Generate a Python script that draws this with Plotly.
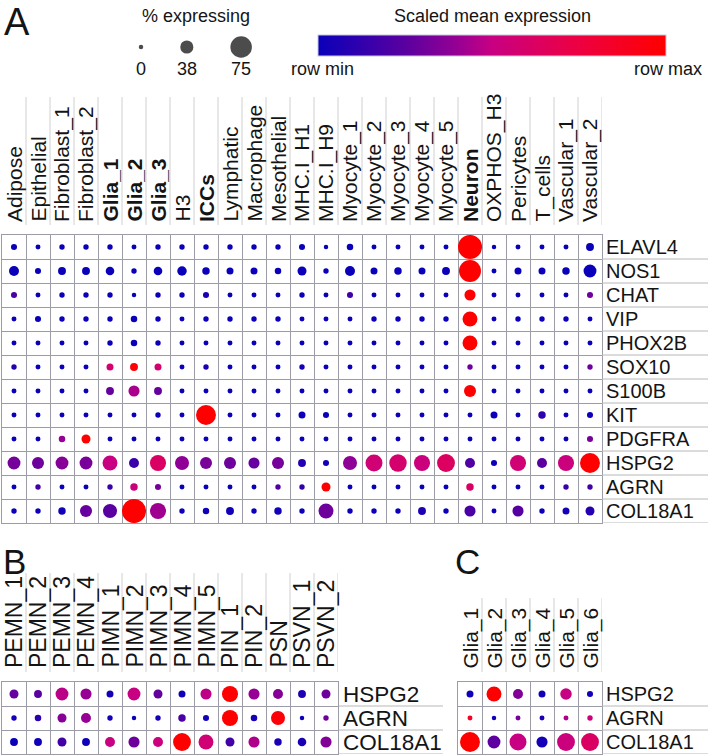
import plotly.graph_objects as go

W, H = 709, 756
FONT = "Liberation Sans, Arial, sans-serif"

# ---------------- data ----------------
a_cols = ["Adipose", "Epithelial", "Fibroblast_1", "Fibroblast_2", "Glia_1", "Glia_2", "Glia_3",
          "H3", "ICCs", "Lymphatic", "Macrophage", "Mesothelial", "MHC.I_H1", "MHC.I_H9",
          "Myocyte_1", "Myocyte_2", "Myocyte_3", "Myocyte_4", "Myocyte_5", "Neuron",
          "OXPHOS_H3", "Pericytes", "T_cells", "Vascular_1", "Vascular_2"]
a_bold = ["Glia_1", "Glia_2", "Glia_3", "ICCs", "Neuron"]
a_genes = ["ELAVL4", "NOS1", "CHAT", "VIP", "PHOX2B", "SOX10", "S100B", "KIT", "PDGFRA",
           "HSPG2", "AGRN", "COL18A1"]

# % expressing (panel A)
a_pct = [
    [7, 2, 4, 4, 4, 2, 4, 4, 4, 4, 4, 4, 7, 0, 9, 2, 2, 2, 2, 86, 0, 2, 2, 2, 15],
    [24, 7, 15, 15, 18, 4, 18, 22, 13, 11, 11, 9, 20, 4, 24, 11, 13, 11, 15, 77, 2, 11, 11, 13, 37],
    [7, 2, 4, 4, 4, 0, 4, 4, 7, 2, 2, 2, 4, 2, 7, 2, 2, 2, 2, 29, 2, 2, 2, 2, 7],
    [2, 7, 4, 4, 4, 9, 4, 2, 4, 4, 4, 4, 2, 2, 2, 4, 4, 4, 4, 46, 2, 4, 4, 4, 2],
    [2, 2, 2, 2, 4, 9, 4, 2, 2, 2, 2, 2, 2, 2, 2, 2, 2, 2, 2, 46, 2, 2, 2, 2, 2],
    [4, 2, 2, 2, 11, 15, 11, 2, 4, 2, 2, 2, 4, 2, 2, 2, 2, 2, 2, 4, 2, 2, 2, 2, 4],
    [2, 2, 2, 2, 15, 29, 15, 2, 2, 2, 2, 2, 2, 2, 2, 2, 2, 2, 2, 33, 2, 2, 2, 2, 2],
    [2, 2, 2, 2, 2, 2, 4, 2, 68, 2, 2, 2, 11, 7, 2, 2, 2, 2, 2, 2, 11, 2, 13, 2, 7],
    [2, 2, 9, 20, 2, 2, 2, 2, 2, 2, 2, 2, 2, 2, 2, 2, 2, 2, 2, 2, 2, 2, 2, 2, 7],
    [37, 33, 37, 37, 46, 24, 51, 42, 33, 33, 29, 33, 15, 7, 42, 55, 57, 51, 59, 24, 7, 51, 24, 51, 68],
    [2, 4, 2, 2, 4, 13, 7, 2, 2, 2, 2, 4, 4, 20, 2, 2, 2, 2, 2, 13, 2, 2, 2, 4, 4],
    [4, 4, 13, 33, 42, 86, 51, 4, 9, 15, 4, 13, 4, 46, 4, 4, 4, 15, 4, 29, 2, 29, 4, 11, 20],
]
# scaled mean expression (row min = 0, row max = 1) (panel A)
a_expr = [
    [0, 0, 0, 0, 0, 0, 0, 0, 0, 0, 0, 0, 0, 0, 0, 0, 0, 0, 0, 1, 0, 0, 0, 0, 0],
    [0, 0, 0, 0, 0, 0, 0, 0, 0, 0, 0, 0, 0, 0, 0, 0, 0, 0, 0, 1, 0, 0, 0, 0, 0],
    [0.2, 0, 0, 0, 0, 0, 0, 0, 0.05, 0, 0, 0, 0, 0, 0.17, 0, 0, 0, 0, 1, 0, 0, 0, 0, 0.3],
    [0, 0, 0, 0, 0, 0, 0, 0, 0, 0, 0, 0, 0, 0, 0, 0, 0, 0, 0, 1, 0, 0, 0, 0, 0],
    [0, 0, 0, 0, 0, 0, 0, 0, 0, 0, 0, 0, 0, 0, 0, 0, 0, 0, 0, 1, 0, 0, 0, 0, 0],
    [0.08, 0, 0, 0, 0.57, 0.97, 0.57, 0, 0.05, 0, 0, 0, 0.03, 0, 0, 0, 0, 0, 0, 0.3, 0, 0, 0, 0, 0.3],
    [0, 0, 0, 0, 0.28, 0.44, 0.28, 0, 0, 0, 0, 0, 0, 0, 0, 0, 0, 0, 0, 1, 0, 0, 0, 0, 0],
    [0, 0, 0, 0, 0, 0, 0, 0, 1, 0, 0, 0, 0, 0, 0, 0, 0, 0, 0, 0, 0, 0, 0.12, 0, 0],
    [0, 0, 0.4, 1, 0, 0, 0, 0, 0, 0, 0, 0, 0, 0, 0, 0, 0, 0, 0, 0, 0, 0, 0, 0, 0.32],
    [0.32, 0.3, 0.36, 0.33, 0.5, 0.15, 0.62, 0.38, 0.33, 0.3, 0.28, 0.32, 0.08, 0.02, 0.38,
     0.55, 0.58, 0.52, 0.63, 0.22, 0, 0.55, 0.25, 0.52, 1],
    [0, 0.18, 0, 0, 0.15, 0.52, 0.32, 0, 0, 0, 0, 0.22, 0.12, 1, 0, 0, 0, 0, 0, 0.62, 0, 0, 0, 0.15, 0.18],
    [0, 0, 0.02, 0.28, 0.25, 1, 0.42, 0, 0.02, 0.02, 0, 0.02, 0, 0.3, 0, 0, 0, 0.06, 0, 0.2, 0,
     0.24, 0, 0.03, 0.08],
]

b_cols = ["PEMN_1", "PEMN_2", "PEMN_3", "PEMN_4", "PIMN_1", "PIMN_2", "PIMN_3", "PIMN_4",
          "PIMN_5", "PIN_1", "PIN_2", "PSN", "PSVN_1", "PSVN_2"]
b_genes = ["HSPG2", "AGRN", "COL18A1"]
b_pct = [
    [20, 15, 37, 29, 11, 37, 20, 11, 29, 51, 29, 24, 15, 20],
    [4, 9, 20, 24, 4, 0, 4, 13, 7, 51, 9, 42, 0, 4],
    [15, 15, 20, 15, 24, 29, 24, 59, 46, 20, 29, 13, 18, 29],
]
b_expr = [
    [0.28, 0.25, 0.47, 0.4, 0.03, 0.5, 0.27, 0.02, 0.48, 1, 0.4, 0.36, 0.07, 0.3],
    [0.03, 0.1, 0.36, 0.4, 0.03, 0, 0.03, 0.2, 0.03, 1, 0.03, 0.97, 0, 0.3],
    [0, 0.02, 0.18, 0.02, 0.5, 0.3, 0.52, 1, 0.55, 0.18, 0.45, 0.05, 0.05, 0.35],
]

c_cols = ["Glia_1", "Glia_2", "Glia_3", "Glia_4", "Glia_5", "Glia_6"]
c_genes = ["HSPG2", "AGRN", "COL18A1"]
c_pct = [
    [11, 46, 24, 11, 31, 7],
    [2, 0, 2, 2, 2, 4],
    [68, 37, 55, 29, 59, 59],
]
c_expr = [
    [0.02, 1, 0.35, 0.02, 0.5, 0.02],
    [0.85, 0.02, 0.33, 0.05, 0.45, 0.52],
    [1, 0.26, 0.5, 0.03, 0.52, 0.62],
]

legend_pct = [0, 38, 75]

# ---------------- styling helpers ----------------
COLORSCALE = [[0, "rgb(10,0,185)"], [0.25, "rgb(90,0,160)"], [0.4, "rgb(150,0,148)"],
              [0.5, "rgb(200,0,130)"], [0.75, "rgb(238,0,65)"], [1, "rgb(255,0,0)"]]
GRID = "#9c9ca6"
HEADLINE = "#d0d0d0"
TXT = "#141414"


def dsize(p):
    return 4.5 + 0.227 * p


def fx(px):
    return px / W


def fy(py):
    return 1 - py / H


fig = go.Figure()

panels = [
    # cols, genes, pct, expr, axis suffix, x0, x1, y0, y1
    (a_cols, a_genes, a_pct, a_expr, "", 2, 602, 235, 523),
    (b_cols, b_genes, b_pct, b_expr, "2", 2, 338, 682, 754),
    (c_cols, c_genes, c_pct, c_expr, "3", 458, 602, 682, 754),
]

layout_axes = {}
for cols, genes, pct, expr, sfx, x0, x1, y0, y1 in panels:
    xs, ys, ss, cs = [], [], [], []
    for gi, g in enumerate(genes):
        for ci, c in enumerate(cols):
            xs.append(c)
            ys.append(g)
            ss.append(dsize(pct[gi][ci]))
            cs.append(expr[gi][ci])
    fig.add_trace(go.Scatter(
        x=xs, y=ys, mode="markers", xaxis="x" + sfx, yaxis="y" + sfx,
        marker=dict(size=ss, color=cs, coloraxis="coloraxis", line=dict(width=0), opacity=1),
        hoverinfo="skip", showlegend=False))
    common = dict(showgrid=True, gridcolor=GRID, gridwidth=1, tickson="boundaries",
                  showticklabels=False, ticks="", showline=True, mirror=True,
                  linecolor=GRID, linewidth=1, zeroline=False, fixedrange=True)
    layout_axes["xaxis" + sfx] = dict(
        type="category", categoryorder="array", categoryarray=cols,
        range=[-0.5, len(cols) - 0.5], domain=[fx(x0), fx(x1)],
        anchor="y" + sfx, **common)
    layout_axes["yaxis" + sfx] = dict(
        type="category", categoryorder="array", categoryarray=genes,
        range=[len(genes) - 0.5, -0.5], domain=[fy(y1), fy(y0)],
        anchor="x" + sfx, **common)

# size legend axis (pixel-like units)
layout_axes["xaxis4"] = dict(domain=[0, 1], range=[0, W], visible=False, fixedrange=True, anchor="y4")
layout_axes["yaxis4"] = dict(domain=[fy(60), fy(34)], range=[0, 1], visible=False, fixedrange=True, anchor="x4")

leg_sizes = [dsize(p) for p in legend_pct]
leg_x = [141.0]
for i in range(1, len(leg_sizes)):
    leg_x.append(leg_x[-1] + leg_sizes[i - 1] / 2 + 37 + leg_sizes[i] / 2)
fig.add_trace(go.Scatter(
    x=leg_x, y=[0.5] * len(leg_x), xaxis="x4", yaxis="y4", mode="markers",
    marker=dict(size=leg_sizes, color="black", line=dict(width=0)),
    hoverinfo="skip", showlegend=False))

annotations = []
shapes = []


def txt(text, x, y, size, xanchor="center", yanchor="middle", xref="paper", yref="paper",
        angle=0):
    annotations.append(dict(text=text, x=x, y=y, xref=xref, yref=yref, xanchor=xanchor,
                            yanchor=yanchor, showarrow=False, textangle=angle, borderpad=0,
                            font=dict(family=FONT, size=size, color=TXT)))


# panel letters
txt("A", fx(3), 1, 38, xanchor="left", yanchor="top")
txt("B", fx(2), fy(561), 35, xanchor="left")
txt("C", fx(454), fy(561), 35, xanchor="left")

# legends
txt("% expressing", fx(196), fy(16), 18)
txt("Scaled mean expression", fx(492), fy(16), 18)
for v, xv in zip(legend_pct, leg_x):
    txt(str(v), xv, fy(69), 18, xref="x4")
txt("row min", fx(290), fy(69), 18, xanchor="left")
txt("row max", fx(703), fy(69), 18, xanchor="right")

# column headers, gene labels, separators
header_cfg = [
    # cols, genes, sfx, header font, gene font, text bottom, line top, line bottom, label x, underline end, bold
    (a_cols, a_genes, "", 21, 20, 223, 97, 225, 605, 708, a_bold),
    (b_cols, b_genes, "2", 23, 22.5, 669, 573, 672, 342, 443, []),
    (c_cols, c_genes, "3", 21, 20, 670, 598, 672, 605, 708, []),
]
for cols, genes, sfx, hf, gf, tb, lt, lb, lx, ue, bold in header_cfg:
    xref = "x" + sfx
    yref = "y" + sfx
    for ci, c in enumerate(cols):
        label = "<b>%s</b>" % c if c in bold else c
        txt(label, c, fy(tb), hf, xanchor="center", yanchor="bottom", xref=xref, angle=-90)
        shapes.append(dict(type="line", xref=xref, yref="paper", x0=ci + 0.5, x1=ci + 0.5,
                           y0=fy(lb), y1=fy(lt), line=dict(color=HEADLINE, width=1)))
    for gi, g in enumerate(genes):
        txt(g, fx(lx), g, gf, xanchor="left", yref=yref)
        shapes.append(dict(type="line", xref="paper", yref=yref,
                           x0=fx(lx - 3), x1=fx(ue), y0=gi + 0.5, y1=gi + 0.5,
                           line=dict(color="#b8b8b8", width=1)))

fig.update_layout(
    width=W, height=H,
    margin=dict(l=0, r=0, t=0, b=0, autoexpand=False),
    paper_bgcolor="white", plot_bgcolor="white",
    annotations=annotations, shapes=shapes,
    coloraxis=dict(
        cmin=0, cmax=1, colorscale=COLORSCALE,
        colorbar=dict(orientation="h", x=fx(492), xanchor="center", y=fy(45.5), yanchor="middle",
                      len=348, lenmode="pixels", thickness=21, thicknessmode="pixels",
                      xpad=0, ypad=0, outlinewidth=1, outlinecolor="#c8c8dc",
                      showticklabels=False, ticks="", borderwidth=0)),
    **layout_axes,
)

fig.write_html("out.html")
